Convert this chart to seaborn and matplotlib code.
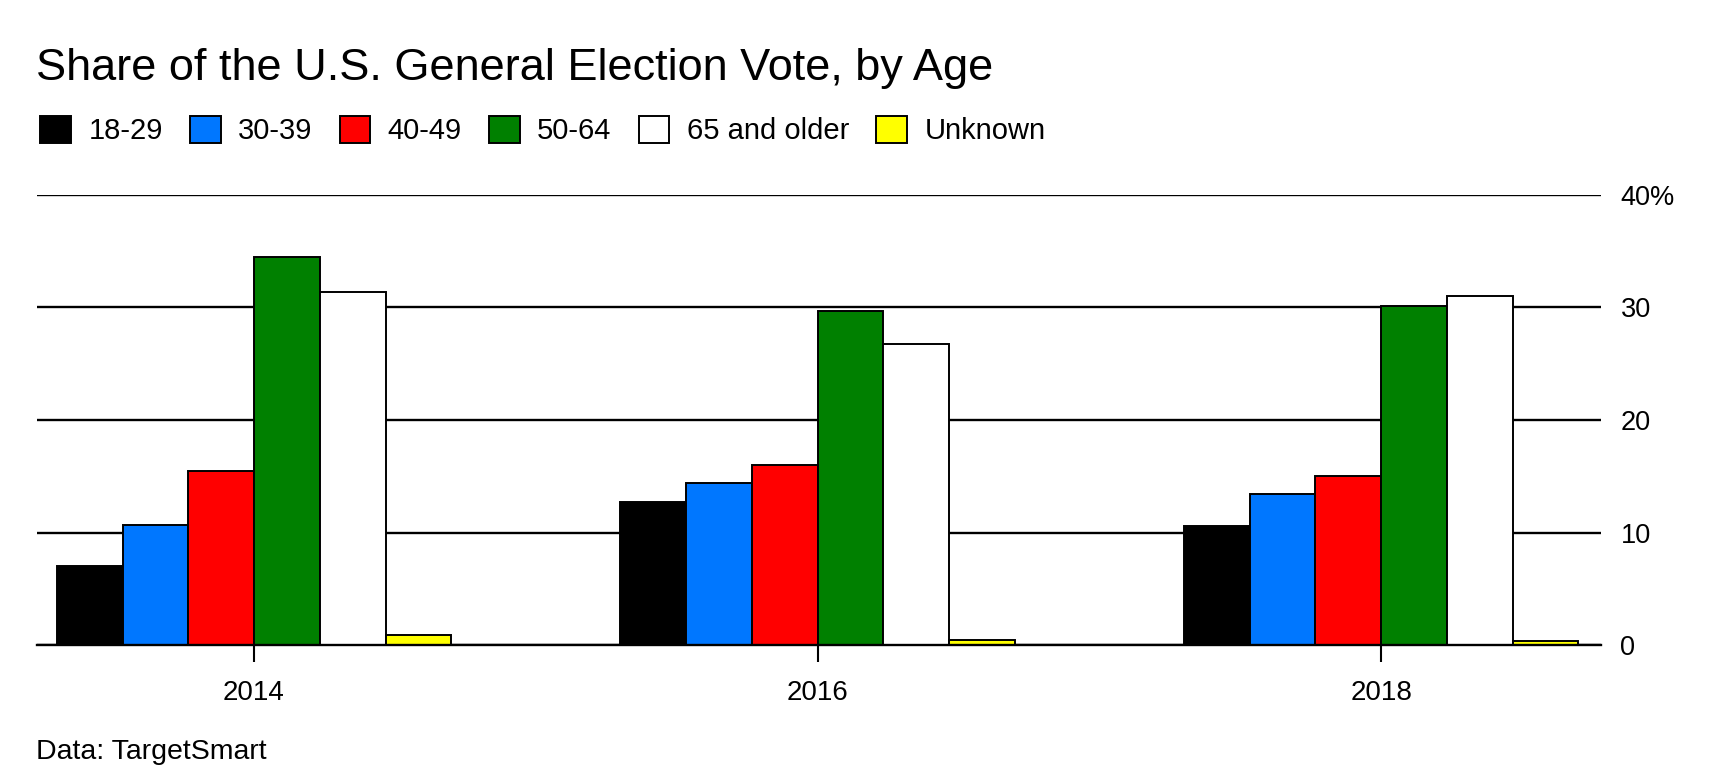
import numpy as np
import pandas as pd
import matplotlib.pyplot as plt
import seaborn as sns
from matplotlib.patches import Patch

# values (share of vote, %)
years = ['2014', '2016', '2018']
age_groups = ['18-29', '30-39', '40-49', '50-64', '65 and older', 'Unknown']
share_18_29 = [7.0, 12.7, 10.6]
share_30_39 = [10.7, 14.4, 13.4]
share_40_49 = [15.5, 16.0, 15.0]
share_50_64 = [34.5, 29.7, 30.1]
share_65_up = [31.4, 26.7, 31.0]
share_unknown = [0.9, 0.5, 0.35]
colors = ['#000000', '#0077ff', '#ff0000', '#008000', '#ffffff', '#ffff00']
y_ticks = [0, 10, 20, 30, 40]
y_ticklabels = ['0', '10', '20', '30', '40%']

series = [share_18_29, share_30_39, share_40_49, share_50_64, share_65_up, share_unknown]
rows = []
for grp, vals in zip(age_groups, series):
    for yr, v in zip(years, vals):
        rows.append({'year': yr, 'age': grp, 'share': v})
df = pd.DataFrame(rows)

sns.set_style('white')
plt.rcParams['font.family'] = ['Liberation Sans', 'DejaVu Sans']
plt.rcParams['text.color'] = 'black'
plt.rcParams['xtick.color'] = 'black'
plt.rcParams['ytick.color'] = 'black'

fig = plt.figure(figsize=(17.16, 7.82), dpi=100)
ax = fig.add_axes([0.0216, 0.175, 0.9114, 0.576])

sns.barplot(data=df, x='year', y='share', hue='age', order=years,
            hue_order=age_groups, palette=colors, edgecolor='black',
            linewidth=1.4, width=0.7, gap=0, saturation=1, ax=ax)
ax.legend_.remove()

ax.set_ylim(0, 40)
ax.set_xlim(-0.385, 2.39)
ax.set_yticks(y_ticks)
ax.set_yticklabels(y_ticklabels)
ax.yaxis.tick_right()
ax.set_axisbelow(True)
ax.yaxis.grid(True, color='black', lw=1.7)
ax.xaxis.grid(False)
for s in ['top', 'left', 'right']:
    ax.spines[s].set_visible(False)
ax.spines['bottom'].set_color('black')
ax.spines['bottom'].set_linewidth(1.7)
ax.tick_params(axis='y', length=0, pad=14, labelsize=19.5)
ax.tick_params(axis='x', length=12, width=1.5, color='black', pad=13,
               labelsize=20, bottom=True)
ax.set_xlabel('')
ax.set_ylabel('')

fig.text(0.021, 0.913, 'Share of the U.S. General Election Vote, by Age',
         fontsize=32.5, va='center', ha='left')
fig.text(0.021, 0.038, 'Data: TargetSmart', fontsize=20.5, va='center', ha='left')

handles = [Patch(facecolor=c, edgecolor='black', lw=1.4) for c in colors]
fig.legend(handles, age_groups, loc='center left', bbox_to_anchor=(0.0235, 0.833),
           ncol=6, frameon=False, fontsize=21, handlelength=1.05, handleheight=1.05,
           handletextpad=0.6, columnspacing=0.93, borderaxespad=0, borderpad=0)

fig.savefig('out.png', dpi=100)
